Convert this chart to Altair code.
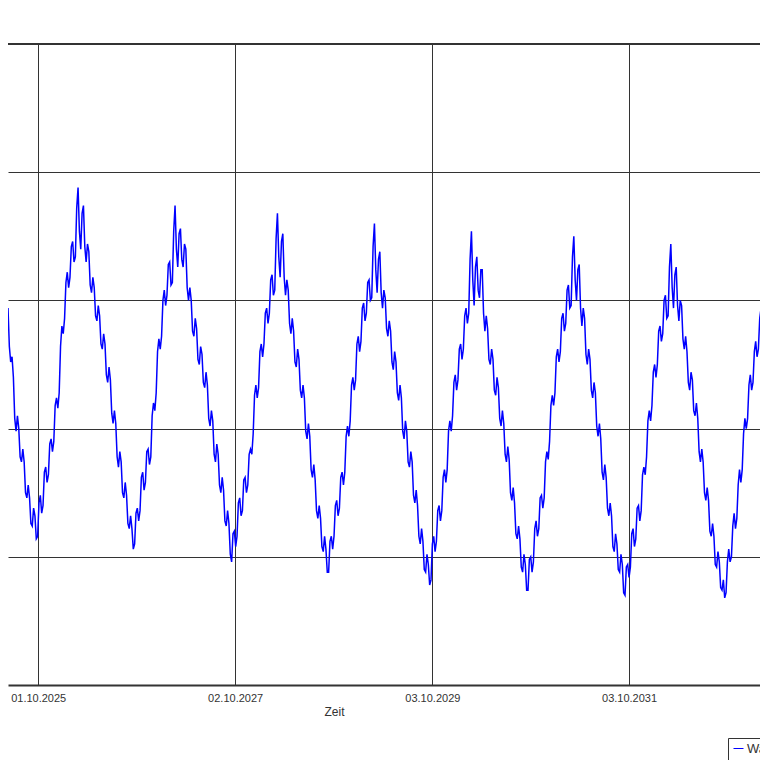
import altair as alt
import pandas as pd

# ---- data -----------------------------------------------------------------
start_date = "2025-06-11"   # first sample (left edge of the visible plot)
step_days = 5                # sampling interval of the series
series_name = "Wasserstand"

values = [
    14.7, 13.2, 12.6, 12.8, 12.0, 10.4, 9.9, 10.5, 10.0, 8.9,
    8.7, 9.2, 8.7, 7.5, 7.3, 7.8, 7.3, 6.3, 6.2, 6.9,
    6.6, 5.7, 5.8, 7.1, 7.4, 6.7, 7.0, 8.3, 8.5, 7.9,
    8.2, 9.4, 9.6, 9.1, 9.5, 10.9, 11.2, 10.8, 11.4, 13.2,
    14.0, 13.7, 14.3, 15.7, 16.1, 15.5, 15.9, 17.1, 17.3, 16.5,
    16.7, 18.6, 19.4, 17.7, 17.0, 18.4, 18.7, 17.1, 16.5, 17.2,
    16.9, 15.6, 15.3, 15.9, 15.5, 14.4, 14.2, 14.8, 14.4, 13.3,
    13.1, 13.7, 13.3, 12.1, 11.8, 12.4, 11.9, 10.6, 10.2, 10.7,
    10.2, 8.9, 8.5, 9.1, 8.7, 7.5, 7.3, 7.9, 7.4, 6.3,
    6.1, 6.6, 6.1, 5.3, 5.5, 6.7, 6.9, 6.4, 6.8, 8.1,
    8.3, 7.6, 7.9, 9.1, 9.2, 8.6, 8.9, 10.5, 11.0, 10.7,
    11.4, 13.0, 13.5, 13.1, 13.6, 15.0, 15.4, 14.8, 15.2, 16.4,
    16.5, 15.6, 15.7, 17.7, 18.7, 17.0, 16.3, 17.6, 17.8, 16.6,
    16.3, 17.2, 17.0, 15.5, 15.0, 15.5, 15.0, 13.8, 13.6, 14.3,
    13.9, 12.7, 12.5, 13.2, 12.9, 11.8, 11.6, 12.2, 11.7, 10.4,
    10.1, 10.7, 10.3, 9.0, 8.7, 9.4, 9.0, 7.8, 7.5, 8.1,
    7.6, 6.4, 6.2, 6.8, 6.3, 5.1, 4.8, 5.9, 6.0, 5.4,
    5.8, 7.1, 7.3, 6.6, 6.8, 8.0, 8.1, 7.5, 7.8, 9.0,
    9.2, 9.0, 9.8, 11.3, 11.7, 11.2, 11.6, 13.0, 13.3, 12.8,
    13.3, 14.5, 14.7, 14.1, 14.5, 15.8, 16.0, 15.2, 15.4, 17.4,
    18.4, 16.7, 15.9, 17.3, 17.6, 15.9, 15.2, 15.8, 15.4, 14.1,
    13.7, 14.3, 13.8, 12.6, 12.4, 13.1, 12.7, 11.5, 11.2, 11.7,
    11.2, 9.9, 9.6, 10.2, 9.7, 8.4, 8.1, 8.6, 8.0, 6.8,
    6.5, 7.0, 6.5, 5.4, 5.2, 5.8, 5.3, 4.4, 4.4, 5.6,
    5.8, 5.3, 5.8, 7.0, 7.2, 6.6, 6.9, 8.1, 8.3, 7.8,
    8.3, 9.7, 10.1, 9.7, 10.3, 11.7, 12.0, 11.5, 11.9, 13.3,
    13.6, 13.0, 13.4, 14.7, 14.9, 14.2, 14.5, 15.7, 15.8, 15.0,
    15.1, 17.1, 18.0, 16.2, 15.3, 16.6, 16.9, 15.3, 14.7, 15.4,
    15.1, 13.9, 13.6, 14.2, 13.8, 12.6, 12.3, 13.0, 12.6, 11.4,
    11.1, 11.7, 11.2, 9.9, 9.6, 10.3, 9.9, 8.7, 8.5, 9.1,
    8.7, 7.4, 7.1, 7.6, 7.0, 5.8, 5.5, 6.1, 5.6, 4.5,
    4.4, 5.1, 4.7, 3.9, 4.1, 5.5, 5.8, 5.2, 5.6, 6.8,
    7.0, 6.4, 6.8, 8.1, 8.4, 7.9, 8.4, 9.9, 10.3, 9.9,
    10.5, 11.8, 12.1, 11.5, 11.9, 13.1, 13.3, 12.7, 13.1, 14.4,
    14.7, 14.1, 14.5, 16.6, 17.7, 15.8, 14.8, 16.3, 16.7, 15.4,
    15.1, 16.2, 16.2, 14.5, 13.8, 14.4, 13.9, 12.7, 12.5, 13.1,
    12.7, 11.5, 11.3, 12.0, 11.6, 10.4, 10.1, 10.7, 10.2, 9.0,
    8.7, 9.3, 8.8, 7.5, 7.2, 7.7, 7.1, 5.9, 5.7, 6.2,
    5.7, 4.6, 4.4, 5.1, 4.7, 3.7, 3.7, 4.9, 5.0, 4.4,
    4.8, 6.1, 6.4, 5.8, 6.1, 7.3, 7.4, 6.9, 7.3, 8.7,
    9.1, 8.8, 9.5, 10.9, 11.3, 10.9, 11.4, 12.8, 13.1, 12.6,
    13.0, 14.3, 14.5, 13.8, 14.1, 15.4, 15.6, 14.7, 14.8, 16.7,
    17.5, 15.8, 15.0, 16.2, 16.4, 14.7, 14.0, 14.7, 14.3, 12.9,
    12.5, 13.1, 12.7, 11.5, 11.2, 11.8, 11.4, 10.1, 9.7, 10.2,
    9.6, 8.3, 8.0, 8.6, 8.1, 6.9, 6.6, 7.1, 6.6, 5.4,
    5.2, 5.9, 5.5, 4.5, 4.4, 5.1, 4.7, 3.6, 3.5, 4.6,
    4.7, 4.2, 4.6, 5.9, 6.1, 5.4, 5.7, 6.9, 7.0, 6.4,
    6.8, 8.2, 8.5, 8.2, 8.9, 10.3, 10.7, 10.3, 10.9, 12.2,
    12.5, 12.0, 12.5, 13.8, 14.0, 13.4, 13.7, 15.0, 15.2, 14.3,
    14.4, 16.3, 17.2, 15.5, 14.7, 16.0, 16.3, 14.8, 14.2, 15.0,
    14.8, 13.5, 13.1, 13.6, 13.0, 11.8, 11.5, 12.2, 11.9, 10.7,
    10.5, 11.0, 10.4, 9.1, 8.7, 9.2, 8.7, 7.5, 7.2, 7.7,
    7.2, 6.0, 5.8, 6.3, 5.8, 4.7, 4.6, 5.2, 4.8, 3.8,
    3.7, 4.1, 3.4, 3.6, 4.8, 5.3, 4.8, 5.0, 6.2, 6.7,
    6.1, 6.5, 7.8, 8.4, 7.9, 8.4, 9.8, 10.4, 10.0, 10.4,
    11.7, 12.1, 11.5, 11.8, 13.0, 13.4, 12.8, 13.1, 14.3, 14.7,
    14.0, 14.3, 15.6, 16.8, 17.0,
]

x_domain = [(2025, 6, 11), (2033, 1, 31)]
tick_dates = [(2025, 10, 1), (2027, 10, 2), (2029, 10, 3), (2031, 10, 3)]
y_domain = [0, 25]
y_grid = [5, 10, 15, 20]
top_border = [25]

# ---- tables ---------------------------------------------------------------
dates = pd.date_range(start_date, periods=len(values), freq=f"{step_days}D")
df = pd.DataFrame({"Zeit": dates, "Wert": values, "Reihe": series_name})
border_df = pd.DataFrame({"y": top_border})


def dt(t):
    return alt.DateTime(year=t[0], month=t[1], date=t[2])


FONT = "Liberation Sans"
INK = "#333333"

x_scale = alt.Scale(domain=[dt(t) for t in x_domain])
y_scale = alt.Scale(domain=y_domain, nice=False, zero=False)

x_enc = alt.X(
    "Zeit:T",
    scale=x_scale,
    axis=alt.Axis(
        values=[dt(t) for t in tick_dates],
        format="%d.%m.%Y",
        title="Zeit",
        grid=True,
        gridColor=INK,
        gridWidth=1,
        gridOpacity=1,
        domain=True,
        domainColor=INK,
        domainWidth=2,
        ticks=False,
        tickSize=0,
        labelPadding=7,
        labelFont=FONT,
        labelFontSize=11,
        labelColor=INK,
        labelFlush=False,
        labelOverlap=False,
        labelAlign="center",
        titleFont=FONT,
        titleFontSize=12,
        titleFontWeight="normal",
        titleColor=INK,
        titleX=326,
        titleY=26,
        titleAlign="center",
        titleBaseline="middle",
    ),
)

y_axis = alt.Axis(
    values=y_grid,
    grid=True,
    gridColor=INK,
    gridWidth=1,
    gridOpacity=1,
    labels=False,
    ticks=False,
    domain=False,
    title=None,
)

line = alt.Chart(df).mark_line(strokeWidth=1.5, clip=True).encode(
    x=x_enc,
    y=alt.Y("Wert:Q", scale=y_scale, axis=y_axis),
    color=alt.Color(
        "Reihe:N",
        scale=alt.Scale(range=["#0000ff"]),
        legend=alt.Legend(
            title=None,
            orient="none",
            legendX=720,
            legendY=694,
            strokeColor=INK,
            fillColor="white",
            padding=4,
            cornerRadius=0,
            symbolType="stroke",
            symbolSize=100,
            symbolStrokeWidth=1,
            labelFont=FONT,
            labelFontSize=13,
            labelColor=INK,
            labelOffset=2,
        ),
    ),
)

border = alt.Chart(border_df).mark_rule(color=INK, strokeWidth=2).encode(
    y=alt.Y("y:Q", scale=y_scale, axis=y_axis)
)

chart = (
    alt.layer(line, border)
    .properties(
        width=752,
        height=641,
        autosize=alt.AutoSizeParams(type="none"),
        padding={"left": 0, "top": 36, "right": 0, "bottom": 75},
        background="white",
    )
    .configure_view(stroke=None)
)

chart.save("out.html", embed_options={"renderer": "svg", "actions": False})
